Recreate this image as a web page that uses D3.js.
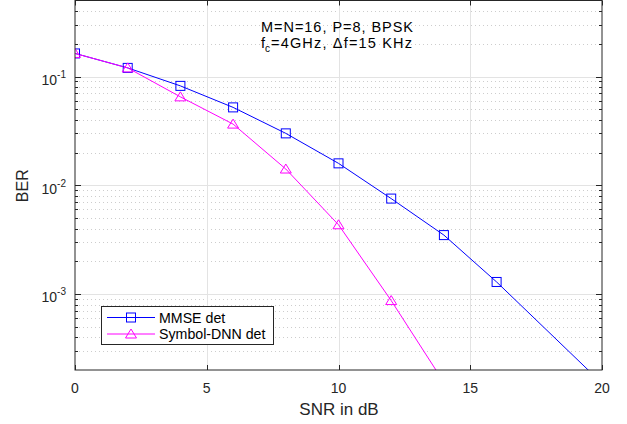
<!DOCTYPE html>
<html>
<head>
<meta charset="utf-8">
<script src="https://cdn.jsdelivr.net/npm/d3@7"></script>
<style>
  html, body { margin: 0; padding: 0; background: #fff; }
  svg { display: block; font-family: "Liberation Sans", Arial, Helvetica, sans-serif; }
</style>
</head>
<body>
<svg id="chart" width="627" height="424"></svg>
<script>
// ---- data ----
const mmseSnr = [0, 2, 4, 6, 8, 10, 12, 14, 16, 20];
const mmseBer = [0.163, 0.12, 0.082, 0.052, 0.030, 0.0159, 0.00754, 0.00348, 0.00129, 0.000151];
const dnnSnr = [0, 2, 4, 6, 8, 10, 12, 14];
const dnnBer = [0.163, 0.12, 0.065, 0.0365, 0.0141, 0.00433, 0.00087, 0.000154];
const seriesNames = ["MMSE det", "Symbol-DNN det"];
const xTicks = [0, 5, 10, 15, 20];
const yMajorExp = [-1, -2, -3];
const xLabel = "SNR in dB";
const yLabel = "BER";
const noteLine1 = "M=N=16, P=8, BPSK";

// ---- layout ----
const L = 75, R = 602, T = 0.5, B = 370;
const svg = d3.select("#chart");
const x = d3.scaleLinear().domain([0, 20]).range([L, R]);
const y = d3.scaleLog().domain([2e-4, 0.5]).range([B, T]);
const axisCol = "#262626";

// minor grid values
const minorVals = [];
for (let e = -4; e <= -1; e++) {
  for (let m = 2; m <= 9; m++) {
    const v = m * Math.pow(10, e);
    if (v > 2e-4 + 1e-12 && v < 0.5 - 1e-9) minorVals.push(v);
  }
}
const g = svg.append("g");

// minor dotted grid
g.selectAll(".minor").data(minorVals).enter().append("line")
  .attr("x1", L).attr("x2", R)
  .attr("y1", d => Math.round(y(d)) + 0.5).attr("y2", d => Math.round(y(d)) + 0.5)
  .attr("stroke", "#cdcdcd").attr("stroke-width", 1).attr("stroke-dasharray", "1,3");

// major grid
const majorVals = yMajorExp.map(e => Math.pow(10, e));
g.selectAll(".majorY").data(majorVals).enter().append("line")
  .attr("x1", L).attr("x2", R)
  .attr("y1", d => Math.round(y(d)) + 0.5).attr("y2", d => Math.round(y(d)) + 0.5)
  .attr("stroke", "#e3e3e3").attr("stroke-width", 1);
g.selectAll(".majorX").data(xTicks.slice(1, -1)).enter().append("line")
  .attr("x1", d => Math.round(x(d)) + 0.5).attr("x2", d => Math.round(x(d)) + 0.5)
  .attr("y1", T).attr("y2", B)
  .attr("stroke", "#e3e3e3").attr("stroke-width", 1);

// ticks (inward) on all sides
const tk = svg.append("g").attr("stroke", axisCol).attr("stroke-width", 1);
xTicks.forEach(v => {
  const px = Math.round(x(v)) + 0.5;
  tk.append("line").attr("x1", px).attr("x2", px).attr("y1", B).attr("y2", B - 5);
  tk.append("line").attr("x1", px).attr("x2", px).attr("y1", T).attr("y2", T + 5);
});
majorVals.forEach(v => {
  const py = Math.round(y(v)) + 0.5;
  tk.append("line").attr("x1", L).attr("x2", L + 6).attr("y1", py).attr("y2", py);
  tk.append("line").attr("x1", R).attr("x2", R - 6).attr("y1", py).attr("y2", py);
});
minorVals.forEach(v => {
  const py = Math.round(y(v)) + 0.5;
  tk.append("line").attr("x1", L).attr("x2", L + 3).attr("y1", py).attr("y2", py);
  tk.append("line").attr("x1", R).attr("x2", R - 3).attr("y1", py).attr("y2", py);
});

// clip
svg.append("defs").append("clipPath").attr("id", "clip")
  .append("rect").attr("x", L).attr("y", T).attr("width", R - L).attr("height", B - T);
const plot = svg.append("g").attr("clip-path", "url(#clip)");

const line = d3.line().x(d => x(d[0])).y(d => y(d[1]));
const mmse = mmseSnr.map((s, i) => [s, mmseBer[i]]);
const dnn = dnnSnr.map((s, i) => [s, dnnBer[i]]);
const blue = "#0000ff", mag = "#ff00ff";

plot.append("path").datum(mmse).attr("d", line).attr("fill", "none").attr("stroke", blue).attr("stroke-width", 1);
plot.append("path").datum(dnn).attr("d", line).attr("fill", "none").attr("stroke", mag).attr("stroke-width", 1);

function square(sel, cx, cy, col) {
  sel.append("rect").attr("x", cx - 4.5).attr("y", cy - 4.5).attr("width", 9).attr("height", 9)
    .attr("fill", "none").attr("stroke", col).attr("stroke-width", 1);
}
function tri(sel, cx, cy, col) {
  const h = 5;
  sel.append("path").attr("d", `M${cx},${cy - h}L${cx + 5.5},${cy + 4}L${cx - 5.5},${cy + 4}Z`)
    .attr("fill", "none").attr("stroke", col).attr("stroke-width", 1);
}
mmse.forEach(d => square(plot, x(d[0]), y(d[1]), blue));
dnn.forEach(d => tri(plot, x(d[0]), y(d[1]), mag));

// box
svg.append("rect").attr("x", L).attr("y", T).attr("width", R - L).attr("height", B - T)
  .attr("fill", "none").attr("stroke", axisCol).attr("stroke-width", 1);

// x tick labels
svg.selectAll(".xl").data(xTicks).enter().append("text")
  .attr("x", d => x(d)).attr("y", 393).attr("text-anchor", "middle")
  .attr("font-size", 14).attr("fill", axisCol).text(d => d);

// y tick labels
yMajorExp.forEach(e => {
  const t = svg.append("text").attr("x", 66).attr("y", y(Math.pow(10, e)) + 8.5)
    .attr("text-anchor", "end").attr("font-size", 14).attr("fill", axisCol);
  t.append("tspan").text("10");
  t.append("tspan").attr("font-size", 10).attr("dy", -7).text(String(e));
});

// axis labels
svg.append("text").attr("x", (L + R) / 2 + 0.5).attr("y", 415).attr("text-anchor", "middle")
  .attr("font-size", 17).attr("fill", axisCol).text(xLabel);
svg.append("text").attr("transform", `translate(28,${(T + B) / 2 + 0.5}) rotate(-90)`)
  .attr("text-anchor", "middle").attr("font-size", 16).attr("fill", axisCol).text(yLabel);

// annotation
svg.append("text").attr("x", 261).attr("y", 31.5).attr("font-size", 14.5).attr("fill", "#000")
  .attr("textLength", 152).attr("lengthAdjust", "spacing").text(noteLine1);
const n2 = svg.append("text").attr("x", 261).attr("y", 47.5).attr("font-size", 14.5).attr("fill", "#000");
n2.append("tspan").text("f");
n2.append("tspan").attr("font-size", 10).attr("dy", 4).text("c");
n2.append("tspan").attr("x", 271).attr("dy", -4)
  .attr("textLength", 141).attr("lengthAdjust", "spacing").text("=4GHz, \u0394f=15 KHz");

// legend
const lg = svg.append("g");
lg.append("rect").attr("x", 101.5).attr("y", 306.5).attr("width", 172).attr("height", 38)
  .attr("fill", "#fff").attr("stroke", axisCol).attr("stroke-width", 1);
const rows = [{ n: seriesNames[0], c: blue, m: square, yy: 317.5 }, { n: seriesNames[1], c: mag, m: tri, yy: 334 }];
rows.forEach(r => {
  lg.append("line").attr("x1", 107).attr("x2", 155).attr("y1", r.yy).attr("y2", r.yy)
    .attr("stroke", r.c).attr("stroke-width", 1);
  r.m(lg, 131, r.yy, r.c);
  lg.append("text").attr("x", 159).attr("y", r.yy + 5).attr("font-size", 14.2).attr("fill", "#000").text(r.n);
});
</script>
</body>
</html>
